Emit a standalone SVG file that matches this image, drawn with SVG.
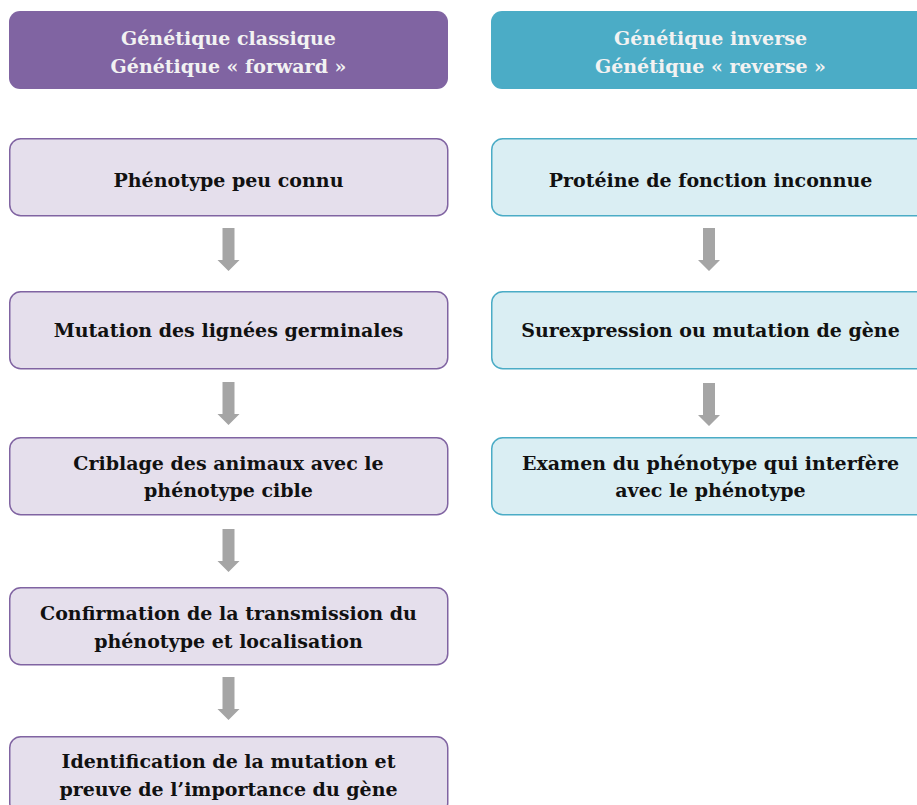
<svg xmlns="http://www.w3.org/2000/svg" width="917" height="805" viewBox="0 0 917 805">
<style>
.hdrL{fill:#8064A2}
.hdrR{fill:#4BACC6}
.boxL{fill:#E5DFEC;stroke:#8064A2;stroke-width:1.5}
.boxR{fill:#DAEEF3;stroke:#4BACC6;stroke-width:1.5}
text{font-family:"DejaVu Serif",serif;font-weight:bold;font-size:19px;text-anchor:middle}
.ht{fill:#F2F2F2}
.bt{fill:#111}
.arrow{fill:#A5A5A5}
</style>
<defs>
<path id="arr" d="M-6,0 H6 V32 H11 L0,43 L-11,32 H-6 Z"/>
</defs>
<rect width="917" height="805" fill="#fff"/>
<g id="header-left">
<rect class="hdrL" x="9" y="11" width="439" height="78" rx="11"/>
<text class="ht" x="228.5" y="45">Génétique classique</text>
<text class="ht" x="228.5" y="73">Génétique « forward »</text>
</g>
<g id="header-right">
<rect class="hdrR" x="491" y="11" width="439" height="78" rx="11"/>
<text class="ht" x="710.5" y="45">Génétique inverse</text>
<text class="ht" x="710.5" y="73">Génétique « reverse »</text>
</g>
<g id="L1"><rect class="boxL" x="9.75" y="138.75" width="438" height="77" rx="11"/>
<text class="bt" x="228.5" y="187">Phénotype peu connu</text></g>
<g id="L2"><rect class="boxL" x="9.75" y="291.75" width="438" height="77" rx="11"/>
<text class="bt" x="228.5" y="337">Mutation des lignées germinales</text></g>
<g id="L3"><rect class="boxL" x="9.75" y="437.75" width="438" height="77" rx="11"/>
<text class="bt" x="228.5" y="470">Criblage des animaux avec le</text>
<text class="bt" x="228.5" y="497">phénotype cible</text></g>
<g id="L4"><rect class="boxL" x="9.75" y="587.75" width="438" height="77" rx="11"/>
<text class="bt" x="228.5" y="620">Confirmation de la transmission du</text>
<text class="bt" x="228.5" y="648">phénotype et localisation</text></g>
<g id="L5"><rect class="boxL" x="9.75" y="736.75" width="438" height="77" rx="11"/>
<text class="bt" x="228.5" y="768">Identification de la mutation et</text>
<text class="bt" x="228.5" y="796">preuve de l’importance du gène</text></g>
<g id="R1"><rect class="boxR" x="491.75" y="138.75" width="438" height="77" rx="11"/>
<text class="bt" x="710.5" y="187">Protéine de fonction inconnue</text></g>
<g id="R2"><rect class="boxR" x="491.75" y="291.75" width="438" height="77" rx="11"/>
<text class="bt" x="710.5" y="337">Surexpression ou mutation de gène</text></g>
<g id="R3"><rect class="boxR" x="491.75" y="437.75" width="438" height="77" rx="11"/>
<text class="bt" x="710.5" y="470">Examen du phénotype qui interfère</text>
<text class="bt" x="710.5" y="497">avec le phénotype</text></g>
<g id="connectors">
<use href="#arr" class="arrow" x="228.5" y="228"/>
<use href="#arr" class="arrow" x="228.5" y="382"/>
<use href="#arr" class="arrow" x="228.5" y="529"/>
<use href="#arr" class="arrow" x="228.5" y="677"/>
<use href="#arr" class="arrow" x="709" y="228"/>
<use href="#arr" class="arrow" x="709" y="383"/>
</g>
</svg>
